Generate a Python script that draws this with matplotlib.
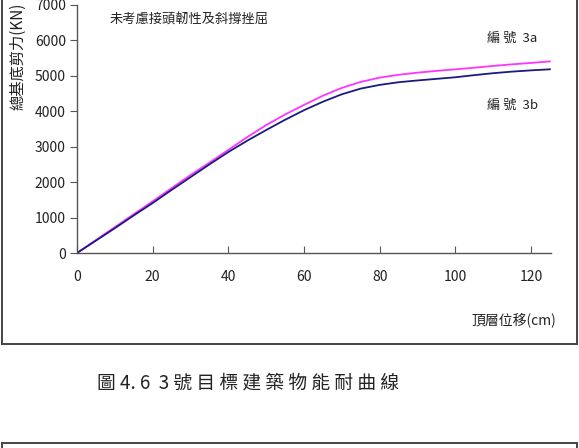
import matplotlib
matplotlib.use('Agg')
import matplotlib.pyplot as plt
from matplotlib.lines import Line2D

plt.rcParams['font.family'] = ['Noto Sans CJK TC', 'DejaVu Sans']

# displacement (cm)
disp = [0, 5, 10, 15, 20, 25, 30, 35, 40, 45, 50, 55, 60, 65, 70, 75, 80,
        85, 90, 95, 100, 105, 110, 115, 120, 125]
# base shear (kN), case 3a
shear_3a = [0, 365, 730, 1095, 1460, 1830, 2200, 2550, 2910, 3270, 3610, 3910,
            4180, 4440, 4660, 4830, 4950, 5030, 5090, 5140, 5185, 5230, 5280,
            5325, 5365, 5408]
# base shear (kN), case 3b
shear_3b = [0, 350, 700, 1060, 1410, 1780, 2140, 2500, 2850, 3170, 3470, 3760,
            4030, 4270, 4480, 4640, 4745, 4820, 4870, 4915, 4960, 5020, 5075,
            5120, 5155, 5185]

x_ticks = [0, 20, 40, 60, 80, 100, 120]
y_ticks = [0, 1000, 2000, 3000, 4000, 5000, 6000, 7000]

W, H = 579, 448
fig = plt.figure(figsize=(W / 100, H / 100), dpi=100)
ax = fig.add_axes([77 / W, 1 - 253 / H, 474 / W, 248 / H])

ax.plot(disp, shear_3a, color='#ff33ff', lw=1.3)
ax.plot(disp, shear_3b, color='#1a1a80', lw=1.3)

ax.set_xlim(0, 125.3)
ax.set_ylim(0, 7000)
ax.set_xticks(x_ticks)
ax.set_yticks(y_ticks)
for side in ['top', 'right']:
    ax.spines[side].set_visible(False)
for side in ['left', 'bottom']:
    ax.spines[side].set_color('#555555')
    ax.spines[side].set_linewidth(1.0)
ax.tick_params(axis='x', direction='in', length=5, color='#555555',
               labelsize=10, pad=12, labelcolor='#222222')
ax.tick_params(axis='y', direction='out', length=5, color='#555555',
               labelsize=10, pad=3, labelcolor='#222222')

fig.text(110 / W, 1 - 20 / H, '未考慮接頭韌性及斜撐挫屈', fontsize=9.5,
         color='#222222', va='center')
fig.text(487 / W, 1 - 38 / H, '編 號  3a', fontsize=9.5, color='#222222',
         va='center')
fig.text(487 / W, 1 - 105 / H, '編 號  3b', fontsize=9.5, color='#222222',
         va='center')
fig.text(556 / W, 1 - 320 / H, '頂層位移(cm)', fontsize=10, color='#222222',
         ha='right', va='center')
fig.text(18 / W, 1 - 110 / H, '總基底剪力(KN)', fontsize=11, color='#222222',
         rotation=90, ha='center', va='bottom')
fig.text(248 / W, 1 - 383 / H, '圖 4. 6  3 號 目 標 建 築 物 能 耐 曲 線',
         fontsize=13.5, color='#222222', ha='center', va='center')

# surrounding frames
frame_kw = dict(color='#444444', lw=1.4, transform=fig.transFigure)
yb = 1 - 344 / H
fig.add_artist(Line2D([1.5 / W, 577 / W], [yb, yb], **frame_kw))
fig.add_artist(Line2D([1.5 / W, 1.5 / W], [yb, 1.0], **frame_kw))
fig.add_artist(Line2D([577 / W, 577 / W], [yb, 1.0], **frame_kw))
yt = 1 - 443 / H
fig.add_artist(Line2D([1.5 / W, 577 / W], [yt, yt], **frame_kw))
fig.add_artist(Line2D([1.5 / W, 1.5 / W], [yt, 0.0], **frame_kw))
fig.add_artist(Line2D([577 / W, 577 / W], [yt, 0.0], **frame_kw))

fig.savefig('out.png', dpi=100)
